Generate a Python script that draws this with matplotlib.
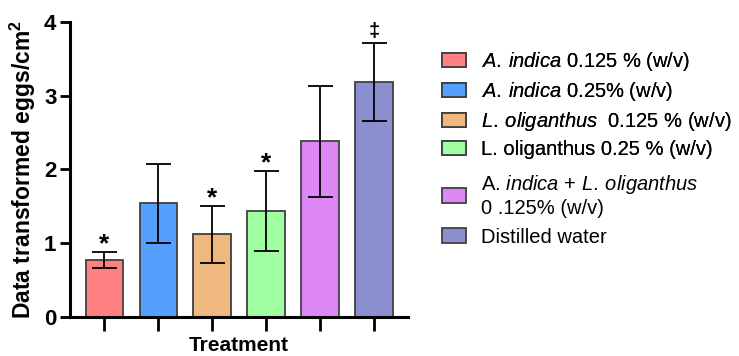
import numpy as np
import matplotlib.pyplot as plt
from matplotlib import rcParams

rcParams['font.family'] = 'Liberation Sans'
rcParams['mathtext.fontset'] = 'custom'
rcParams['mathtext.rm'] = 'Liberation Sans'
rcParams['mathtext.it'] = 'Liberation Sans:italic'
rcParams['mathtext.bf'] = 'Liberation Sans:bold'

labels = [r'$\it{A.\:indica}$ 0.125 % (w/v)',
          r'$\it{A.\:indica}$ 0.25% (w/v)',
          r'$\it{L.\:oliganthus}$  0.125 % (w/v)',
          'L. oliganthus 0.25 % (w/v)',
          'A. $\\it{indica}$ + $\\it{L.\\:oliganthus}$\n0 .125% (w/v)',
          'Distilled water']
means = [0.77, 1.54, 1.12, 1.44, 2.38, 3.19]
errors = [0.11, 0.54, 0.39, 0.54, 0.75, 0.53]
marks = ['*', '', '*', '*', '', '\u2021']
colors = ['#FF8080', '#55A0FF', '#EFB87F', '#A0FFA0', '#DD88F5', '#8C8FCF']

fig = plt.figure(figsize=(7.39, 3.56), dpi=100)
ax = fig.add_axes([0.095, 0.11, 0.457, 0.828])

x = np.arange(len(means))
bars = ax.bar(x, means, width=0.69, color=colors, edgecolor='#404040', linewidth=1.3,
              label=labels, zorder=2)
ax.errorbar(x, means, yerr=errors, fmt='none', ecolor='black', elinewidth=1.3,
            capsize=9, capthick=1.3, zorder=3)

for xi, m, e, s in zip(x, means, errors, marks):
    if s == '*':
        ax.text(xi, m + e - 0.06, s, ha='center', va='bottom', fontsize=19, fontweight='bold')
    elif s:
        ax.text(xi, m + e + 0.02, s, ha='center', va='bottom', fontsize=14.5, fontweight='bold')

ax.set_xlim(-0.63, 5.63)
ax.set_ylim(0, 4)
ax.set_yticks([0, 1, 2, 3, 4])
ax.set_xticks(x)
ax.set_xticklabels([])
ax.spines['top'].set_visible(False)
ax.spines['right'].set_visible(False)
ax.spines['left'].set_linewidth(2.2)
ax.spines['bottom'].set_linewidth(2.2)
ax.tick_params(axis='y', length=7, width=2, labelsize=16, pad=3)
ax.tick_params(axis='x', length=10, width=2)
for t in ax.get_yticklabels():
    t.set_fontweight('bold')
ax.set_ylabel('Data transformed eggs/cm$^\\mathbf{2}$', fontsize=16.5, fontweight='bold', labelpad=4)
ax.set_xlabel('Treatment', fontsize=15, fontweight='bold', labelpad=0)

# legend split in two so the two-line entry gets the same spacing as the original
leg_kw = dict(loc='upper left', frameon=False, fontsize=14.5, handlelength=1.2,
              handleheight=0.7, handletextpad=0.75, borderaxespad=0)
patches = bars.patches
leg1 = fig.legend(handles=patches[:4], labels=labels[:4],
                  bbox_to_anchor=(0.587, 0.882), labelspacing=0.34, **leg_kw)
leg2 = fig.legend(handles=patches[4:], labels=labels[4:],
                  bbox_to_anchor=(0.587, 0.538), labelspacing=0.5, **leg_kw)
for t in leg2.get_texts():
    t.set_linespacing(1.2)
fig.add_artist(leg1)

fig.savefig('out.png', dpi=100)
